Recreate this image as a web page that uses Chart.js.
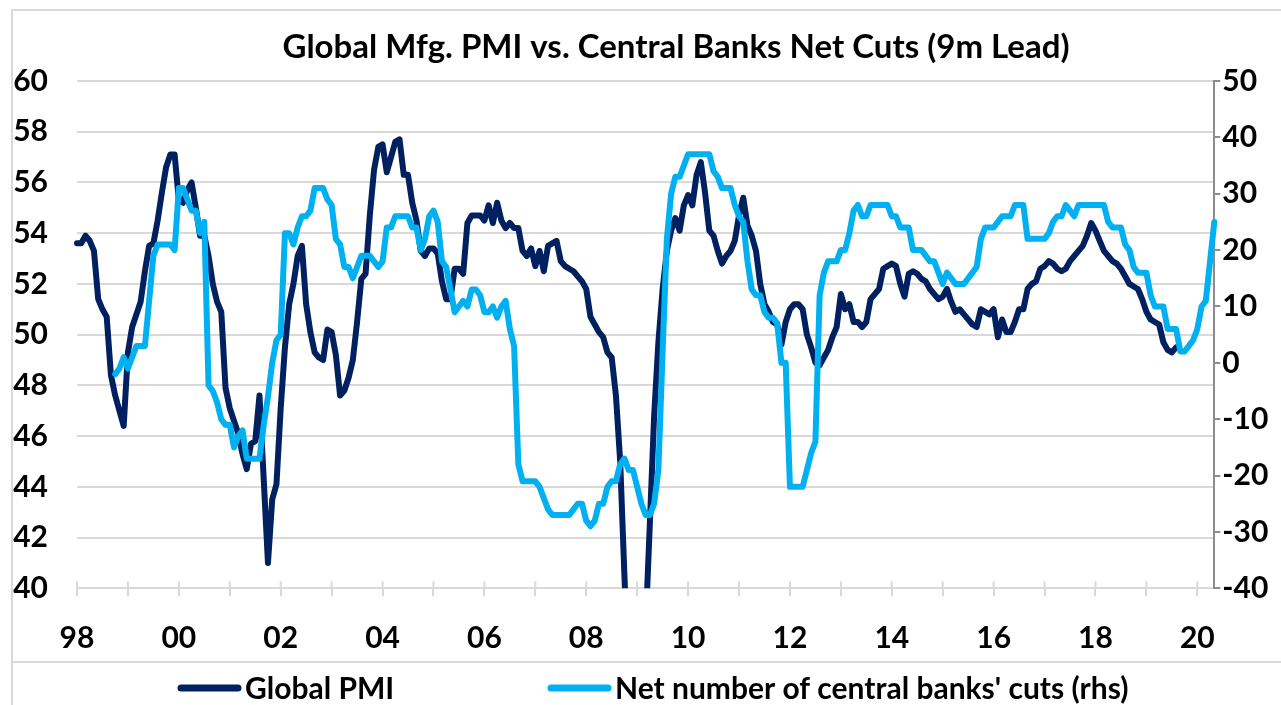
<!DOCTYPE html>
<html>
<head>
<meta charset="utf-8">
<script src="https://cdn.jsdelivr.net/npm/chart.js@4"></script>
<style>
  html, body { margin: 0; padding: 0; background: #fff; }
</style>
</head>
<body>
<canvas id="pmiChart" width="1281" height="705"></canvas>
<script>
// monthly axis: Jan 1998 .. May 2020
const startYear = 1998;
const monthCount = 269;
const yearTickLabels = ["98", "00", "02", "04", "06", "08", "10", "12", "14", "16", "18", "20"];

// Global manufacturing PMI (lhs), Jan 1998 .. Aug 2019
const globalPmi = [
  53.6, 53.6, 53.9, 53.7, 53.3, 51.4, 51.0, 50.7, 48.4, 47.6, 47.0, 46.4,
  49.3, 50.3, 50.8, 51.3, 52.5, 53.5, 53.6, 54.5, 55.6, 56.6, 57.1, 57.1,
  55.3, 55.2, 55.7, 56.0, 55.0, 53.9, 53.9, 53.1, 52.0, 51.3, 50.9, 47.9,
  47.1, 46.6, 46.1, 45.3, 44.7, 45.7, 45.8, 47.6, 44.3, 41.0, 43.5, 44.1,
  47.1, 49.5, 51.2, 52.0, 53.1, 53.5, 51.2, 50.1, 49.3, 49.1, 49.0, 50.2,
  50.1, 49.2, 47.6, 47.8, 48.3, 49.0, 50.5, 52.2, 52.4, 54.7, 56.5, 57.4,
  57.5, 56.4, 57.0, 57.6, 57.7, 56.3, 56.3, 55.2, 54.5, 53.3, 53.1, 53.4,
  53.4, 53.2, 52.1, 51.4, 51.4, 52.6, 52.6, 52.4, 54.4, 54.7, 54.7, 54.7,
  54.5, 55.1, 54.4, 55.2, 54.5, 54.2, 54.4, 54.2, 54.2, 53.3, 53.1, 53.4,
  52.7, 53.3, 52.5, 53.5, 53.6, 53.7, 52.9, 52.7, 52.6, 52.5, 52.3, 52.1,
  51.8, 50.7, 50.4, 50.1, 49.9, 49.3, 49.1, 47.6, 45.0, 40.5, 36.3, 33.7,
  34.9, 35.5, 38.5, 42.6, 46.8, 49.7, 51.8, 53.3, 54.1, 54.6, 54.1, 55.1,
  55.5, 55.1, 56.3, 56.8, 55.6, 54.1, 53.9, 53.3, 52.8, 53.1, 53.3, 53.7,
  54.7, 55.4, 54.3, 53.9, 53.3, 52.0, 51.2, 50.9, 50.5, 50.4, 49.6, 50.5,
  51.0, 51.2, 51.2, 51.0, 50.0, 49.5, 48.9, 48.8, 49.1, 49.4, 49.9, 50.3,
  51.6, 51.0, 51.2, 50.5, 50.5, 50.3, 50.5, 51.4, 51.6, 51.8, 52.6, 52.7,
  52.8, 52.7, 52.0, 51.5, 52.4, 52.5, 52.4, 52.2, 52.1, 51.8, 51.6, 51.4,
  51.5, 51.8, 51.3, 50.9, 51.0, 50.8, 50.6, 50.4, 50.3, 51.0, 50.9, 50.8,
  51.0, 49.9, 50.6, 50.1, 50.1, 50.5, 51.0, 51.0, 51.8, 52.0, 52.1, 52.6,
  52.7, 52.9, 52.8, 52.6, 52.5, 52.6, 52.9, 53.1, 53.3, 53.5, 53.9, 54.4,
  54.1, 53.7, 53.3, 53.1, 52.9, 52.8, 52.6, 52.3, 52.0, 51.9, 51.8, 51.4,
  50.9, 50.6, 50.5, 50.4, 49.7, 49.4, 49.3, 49.5,
  null, null, null, null, null, null, null, null, null
];

// Net number of central banks cutting rates, 9m lead (rhs)
const netCuts = [
  null, null, null, null, null, null, null, null, null, -2, -1, 1,
  -1, 1, 3, 3, 3, 11, 19, 21, 21, 21, 21, 20,
  31, 31, 29, 27, 27, 23, 25, -4, -5, -7, -10, -11,
  -11, -15, -13, -12, -17, -17, -17, -17, -11, -6, 0, 4,
  5, 23, 23, 21, 24, 26, 26, 27, 31, 31, 31, 29,
  28, 22, 21, 17, 17, 15, 17, 19, 19, 19, 18, 17,
  18, 24, 24, 26, 26, 26, 26, 24, 24, 20, 22, 26,
  27, 25, 18, 17, 13, 9, 10, 11, 10, 13, 13, 12,
  9, 9, 10, 8, 10, 11, 6, 3, -18, -21, -21, -21,
  -21, -22, -24, -26, -27, -27, -27, -27, -27, -26, -25, -25,
  -28, -29, -28, -25, -25, -22, -21, -21, -18, -17, -19, -19,
  -22, -25, -27, -27, -25, -19, 2, 22, 30, 33, 33, 35,
  37, 37, 37, 37, 37, 37, 34, 33, 31, 31, 31, 28,
  26, 25, 18, 13, 12, 12, 9, 8, 8, 7, 0, 0,
  -22, -22, -22, -22, -19, -16, -14, 12, 16, 18, 18, 18,
  20, 20, 23, 27, 28, 26, 26, 28, 28, 28, 28, 28,
  26, 26, 24, 24, 24, 20, 20, 20, 19, 18, 18, 16,
  14, 16, 15, 14, 14, 14, 15, 16, 17, 22, 24, 24,
  24, 25, 26, 26, 26, 28, 28, 28, 22, 22, 22, 22,
  22, 23, 25, 26, 26, 28, 27, 26, 28, 28, 28, 28,
  28, 28, 28, 25, 24, 24, 24, 21, 20, 17, 16, 16,
  16, 12, 10, 10, 10, 6, 6, 6, 2, 2, 3, 4,
  6, 10, 11, 18, 25
];

const FONT = "Lato, 'Liberation Sans', sans-serif";
const NAVY = "#002060";
const CYAN = "#00b0f0";
const GRID = "#d9d9d9";

const monthLabels = [];
for (let i = 0; i < monthCount; i++) {
  const y = startYear + Math.floor(i / 12);
  const m = (i % 12) + 1;
  monthLabels.push(y + "-" + (m < 10 ? "0" + m : m));
}

// frame, title, legend and the little cross ticks on the x axis
const decor = {
  id: "decor",
  beforeDraw(chart) {
    const ctx = chart.ctx;
    ctx.save();
    ctx.fillStyle = "#fff";
    ctx.fillRect(0, 0, chart.width, chart.height);
    ctx.strokeStyle = GRID;
    ctx.lineWidth = 2;
    ctx.beginPath();
    ctx.moveTo(12, 705);
    ctx.lineTo(12, 10);
    ctx.lineTo(1281, 10);
    ctx.moveTo(12, 662);
    ctx.lineTo(1281, 662);
    ctx.stroke();
    ctx.restore();
  },
  afterDraw(chart) {
    const ctx = chart.ctx;
    const x = chart.scales.x;
    const area = chart.chartArea;
    ctx.save();
    // upper half of the cross ticks
    ctx.strokeStyle = GRID;
    ctx.lineWidth = 2;
    x.ticks.forEach((t, i) => {
      const px = x.getPixelForTick(i);
      ctx.beginPath();
      ctx.moveTo(px, area.bottom - 7);
      ctx.lineTo(px, area.bottom);
      ctx.stroke();
    });
    // title
    ctx.fillStyle = "#000";
    ctx.font = "bold 33px " + FONT;
    ctx.textAlign = "center";
    ctx.textBaseline = "middle";
    ctx.fillText("Global Mfg. PMI vs. Central Banks Net Cuts (9m Lead)", 676, 47);
    // legend
    ctx.font = "bold 30px " + FONT;
    const items = [
      { text: "Global PMI", color: NAVY, x0: 181, x1: 238, tx: 245 },
      { text: "Net number of central banks' cuts (rhs)", color: CYAN, x0: 551, x1: 608, tx: 615 }
    ];
    ctx.textAlign = "left";
    ctx.lineCap = "round";
    items.forEach(it => {
      ctx.strokeStyle = it.color;
      ctx.lineWidth = 7;
      ctx.beginPath();
      ctx.moveTo(it.x0, 688);
      ctx.lineTo(it.x1, 688);
      ctx.stroke();
      ctx.fillStyle = "#000";
      ctx.fillText(it.text, it.tx, 689);
    });
    ctx.restore();
  }
};

new Chart(document.getElementById("pmiChart"), {
  type: "line",
  data: {
    labels: monthLabels,
    datasets: [
      {
        label: "Global PMI",
        data: globalPmi,
        yAxisID: "y",
        borderColor: NAVY,
        backgroundColor: NAVY,
        borderWidth: 6,
        pointRadius: 0,
        tension: 0,
        borderJoinStyle: "round",
        borderCapStyle: "round",
        order: 2
      },
      {
        label: "Net number of central banks' cuts (rhs)",
        data: netCuts,
        yAxisID: "y1",
        borderColor: CYAN,
        backgroundColor: CYAN,
        borderWidth: 6,
        pointRadius: 0,
        tension: 0,
        borderJoinStyle: "round",
        borderCapStyle: "round",
        order: 1
      }
    ]
  },
  options: {
    responsive: false,
    animation: false,
    layout: { padding: { top: 81, left: 0, right: 0, bottom: 0 } },
    plugins: {
      legend: { display: false },
      title: { display: false },
      tooltip: { enabled: false }
    },
    scales: {
      x: {
        type: "category",
        offset: false,
        grid: { drawOnChartArea: false, drawTicks: true, tickLength: 8, color: GRID, lineWidth: 2 },
        border: { display: true, color: GRID, width: 2 },
        ticks: {
          autoSkip: false,
          maxRotation: 0,
          padding: 24,
          color: "#000",
          font: { family: FONT, size: 30, weight: "bold" },
          callback(value, index) {
            if (index % 12 !== 0) return null;
            const yr = Math.floor(index / 12);
            if (yr % 2 === 1) return "";
            return yearTickLabels[yr / 2];
          }
        },
        afterFit(scale) { scale.height = 116.7; }
      },
      y: {
        position: "left",
        min: 40,
        max: 60,
        grid: { color: GRID, lineWidth: 2, drawTicks: false },
        border: { display: false },
        ticks: {
          stepSize: 2,
          padding: 29,
          color: "#000",
          font: { family: FONT, size: 30, weight: "bold" }
        },
        afterFit(scale) { scale.width = 77; }
      },
      y1: {
        position: "right",
        min: -40,
        max: 50,
        grid: { drawOnChartArea: false, drawTicks: true, tickLength: 6, color: "#8c8c8c", lineWidth: 2 },
        border: { display: true, color: "#8c8c8c", width: 2 },
        ticks: {
          stepSize: 10,
          padding: 2,
          color: "#000",
          font: { family: FONT, size: 30, weight: "bold" }
        },
        afterFit(scale) { scale.width = 66.7; }
      }
    }
  },
  plugins: [decor]
});
</script>
</body>
</html>
